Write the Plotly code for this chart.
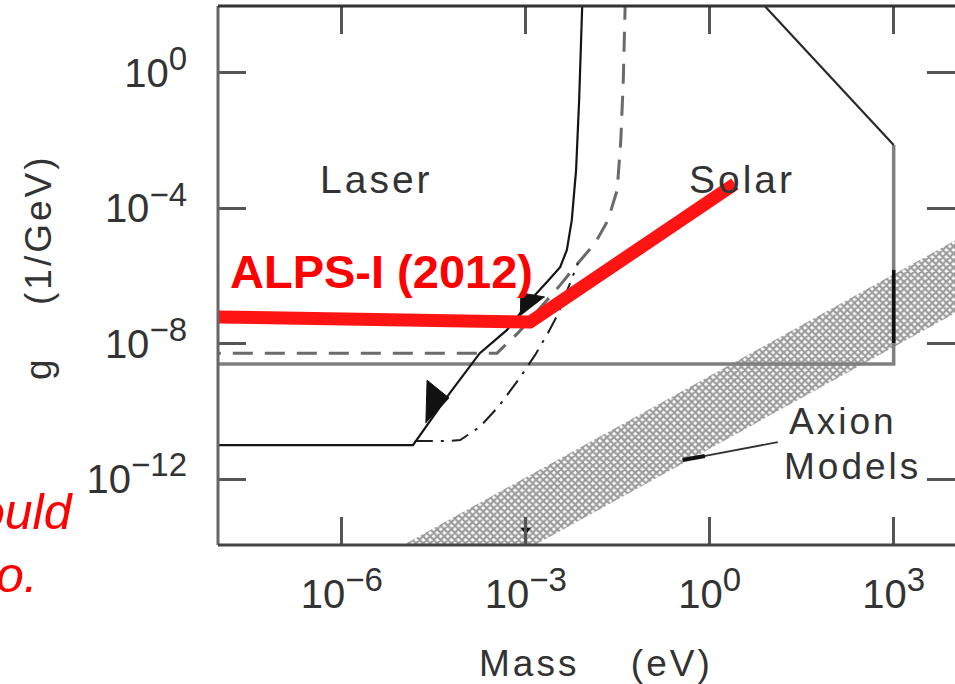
import numpy as np
import plotly.graph_objects as go

# ---- axis extents (log10 units) ----
MASS_RANGE = [-8.02, 4.0]      # log10(mass / eV)
G_RANGE = [-13.95, 1.98]       # log10(g / GeV^-1)

# ---- tick positions and labels ----
mass_ticks = [1e-6, 1e-3, 1e0, 1e3]
mass_exponents = ["−6", "−3", "0", "3"]
g_ticks = [1e-12, 1e-8, 1e-4, 1e0]
g_exponents = ["−12", "−8", "−4", "0"]

# ---- exclusion curves, log10 values ----
# laser photon-regeneration limit (solid)
laser_log_m = [-8.3, -4.84, -4.24, -3.75, -3.31, -2.88, -2.64, -2.44, -2.33, -2.25, -2.18, -2.13, -2.08, -2.07]
laser_log_g = [-11.0, -11.0, -9.46, -8.28, -7.60, -6.62, -6.15, -5.74, -5.23, -4.35, -2.87, -0.80, 1.98, 2.3]

# laser rotation limit (dashed)
rot_log_m = [-8.3, -3.47, -3.13, -2.77, -2.44, -2.15, -1.87, -1.66, -1.51, -1.45, -1.41, -1.38, -1.37]
rot_log_g = [-8.28, -8.28, -7.69, -6.95, -6.27, -5.62, -5.03, -4.35, -3.46, -1.98, -0.21, 1.98, 2.3]

# laser ellipticity limit (dash-dot)
ell_log_m = [-4.81, -4.32, -4.07, -3.75, -3.45, -3.09, -2.85, -2.64, -2.47, -2.15]
ell_log_g = [-10.88, -10.88, -10.85, -10.46, -9.87, -8.99, -8.34, -7.69, -7.10, -5.62]

# solar limit: upper diagonal edge, right wall, bottom floor
solar_edge_log_m = [0.63, 3.0]
solar_edge_log_g = [2.5, -2.13]
solar_floor_log_m = [3.0, 3.0, -8.3]
solar_floor_log_g = [-2.13, -8.60, -8.60]

# axion model band (polygon corners)
band_log_m = [-6.0, 5.0, 5.0, -3.0]
band_log_g = [-14.95, -3.95, -6.1, -14.1]

# ALPS-I 2012 exclusion line
alps_log_m = [-8.3, -2.93, 0.41]
alps_log_g = [-7.20, -7.36, -3.28]

# arrowheads on the laser curve
arrow1_log_m = [-4.63, -4.61, -4.25]
arrow1_log_g = [-10.35, -9.08, -9.61]
arrow2_log_m = [-3.09, -3.08, -2.69]
arrow2_log_g = [-7.18, -6.50, -6.62]

# solar arrow on the right wall and band marker
solar_arrow_log_m = [3.0, 3.0]
solar_arrow_log_g = [-5.82, -7.98]
band_mark_log_m = [-3.0]
band_mark_log_g = [-13.51]

# leader from the "Axion Models" label to the band
leader_log_m = [1.11, -0.44]
leader_log_g = [-10.91, -11.44]
leader_tip_log_m = [-0.08, -0.44]
leader_tip_log_g = [-11.32, -11.44]


def pw(vals):
    return np.power(10.0, np.asarray(vals, dtype=float))


def power_label(exp, sup_px=33):
    return f"10<sup><span style='font-size:{sup_px}px'>{exp}</span></sup>"


fig = go.Figure()

fig.add_trace(go.Scatter(
    x=pw(band_log_m), y=pw(band_log_g), mode="lines", fill="toself",
    line=dict(width=0), fillcolor="white",
    fillpattern=dict(shape="x", size=5, solidity=0.7, fgcolor="#3a3a3a", bgcolor="white"),
    hoverinfo="skip"))

fig.add_trace(go.Scatter(x=pw(solar_floor_log_m), y=pw(solar_floor_log_g), mode="lines",
                         line=dict(color="#808080", width=3.5)))
fig.add_trace(go.Scatter(x=pw(solar_edge_log_m), y=pw(solar_edge_log_g), mode="lines",
                         line=dict(color="#2a2a2a", width=2.2)))
fig.add_trace(go.Scatter(x=pw(solar_arrow_log_m), y=pw(solar_arrow_log_g), mode="lines",
                         line=dict(color="#111111", width=3.5)))

fig.add_trace(go.Scatter(x=pw(rot_log_m), y=pw(rot_log_g), mode="lines",
                         line=dict(color="#6a6a6a", width=3, dash="20px,12px")))
fig.add_trace(go.Scatter(x=pw(ell_log_m), y=pw(ell_log_g), mode="lines",
                         line=dict(color="#1e1e1e", width=2, dash="18px,8px,3px,8px")))
fig.add_trace(go.Scatter(x=pw(laser_log_m), y=pw(laser_log_g), mode="lines",
                         line=dict(color="#151515", width=2.2)))

for am, ag in ((arrow1_log_m, arrow1_log_g), (arrow2_log_m, arrow2_log_g)):
    fig.add_trace(go.Scatter(x=pw(am), y=pw(ag), mode="lines", fill="toself",
                             fillcolor="#111111", line=dict(color="#111111", width=1)))

fig.add_trace(go.Scatter(x=pw(band_mark_log_m), y=pw(band_mark_log_g), mode="markers",
                         marker=dict(symbol="triangle-down", size=9, color="#111111")))
fig.add_trace(go.Scatter(x=pw(leader_log_m), y=pw(leader_log_g), mode="lines",
                         line=dict(color="#333333", width=1.8)))
fig.add_trace(go.Scatter(x=pw(leader_tip_log_m), y=pw(leader_tip_log_g), mode="lines",
                         line=dict(color="#111111", width=4)))

fig.add_trace(go.Scatter(x=pw(alps_log_m), y=pw(alps_log_g), mode="lines",
                         line=dict(color="#ff1414", width=13)))

# ---- layout geometry ----
W, H = 955, 684
L, R, T, B = 218, 0, 6, 139
PW, PH = W - L - R, H - T - B


def px(x):
    return (x - L) / PW


def py(y):
    return (H - B - y) / PH


scan_font = "Liberation Sans, Arial, sans-serif"
ink = "#333333"


def spaced(txt, sp=3):
    return f"<span style='letter-spacing:{sp}px'>{txt}</span>"


def label(text, x, y, size, xanchor="center", yanchor="middle", color=ink, angle=0):
    return dict(text=text, x=px(x), y=py(y), xref="paper", yref="paper",
                xanchor=xanchor, yanchor=yanchor, showarrow=False, textangle=angle,
                font=dict(family=scan_font, size=size, color=color))


ann = [
    label(spaced("Laser"), 376, 180, 39),
    label(spaced("Solar"), 742, 180, 39),
    label(spaced("Axion"), 843, 444, 37, yanchor="bottom"),
    label(spaced("Models"), 852, 444, 37, yanchor="top"),
    label(spaced("Mass") + "     " + spaced("(eV)"), 596, 663, 37),
    label(spaced("g") + "     " + spaced("(1/GeV)"), 38, 267, 37, angle=-90),
    label("<b>ALPS-I (2012)</b>", 228, 271, 47, xanchor="left", color="#ff0000"),
    label("<i>ould</i>", 76, 512, 50, xanchor="right", color="#ff0000"),
    label("<i>o.</i>", 40, 575, 50, xanchor="right", color="#ff0000"),
]

frame = [
    dict(type="line", xref="paper", yref="paper", x0=0, x1=0, y0=0, y1=1,
         line=dict(color="#666666", width=3)),
    dict(type="line", xref="paper", yref="paper", x0=0, x1=1, y0=1, y1=1,
         line=dict(color="#333333", width=3)),
    dict(type="line", xref="paper", yref="paper", x0=0, x1=1, y0=0, y1=0,
         line=dict(color="#444444", width=3)),
]

axis_common = dict(type="log", showgrid=False, zeroline=False, showline=False,
                   ticks="inside", ticklen=28, tickwidth=2.5, tickcolor="#555555",
                   mirror="ticks", automargin=False,
                   tickfont=dict(family=scan_font, size=40, color=ink))

fig.update_layout(
    width=W, height=H, margin=dict(l=L, r=R, t=T, b=B),
    paper_bgcolor="white", plot_bgcolor="white", showlegend=False,
    xaxis=dict(range=MASS_RANGE, tickvals=mass_ticks,
               ticktext=[power_label(e) for e in mass_exponents],
               ticklabelstandoff=22, **axis_common),
    yaxis=dict(range=G_RANGE, tickvals=g_ticks,
               ticktext=[power_label(e) for e in g_exponents],
               ticklabelstandoff=30, **axis_common),
    annotations=ann, shapes=frame,
)

fig.write_html("out.html")
